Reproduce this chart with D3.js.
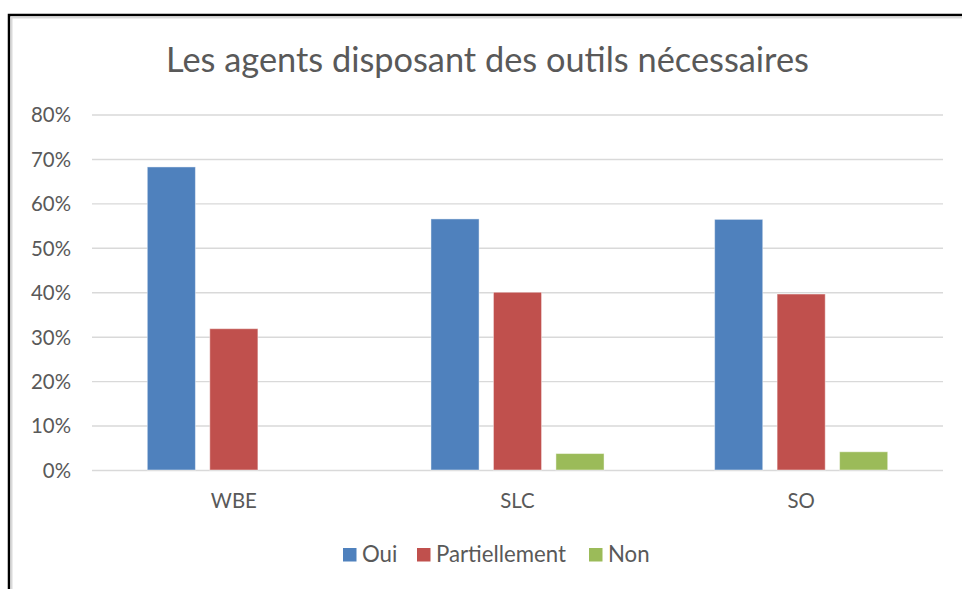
<!DOCTYPE html>
<html>
<head>
<meta charset="utf-8">
<script src="https://cdn.jsdelivr.net/npm/d3@7"></script>
<style>
  body { margin: 0; background: #fff; }
  text { font-family: Lato, "Open Sans", sans-serif; fill: #595959; }
</style>
</head>
<body>
<div id="chart"></div>
<script>
// Data
let categories = ["WBE", "SLC", "SO"];
let series = ["Oui", "Partiellement", "Non"];
let oui = [0.682, 0.565, 0.564];
let partiellement = [0.318, 0.400, 0.396];
let non = [0, 0.037, 0.041];
let yTicks = [0, 0.1, 0.2, 0.3, 0.4, 0.5, 0.6, 0.7, 0.8];
let title = "Les agents disposant des outils nécessaires";
let colors = ["#4f81bd", "#c0504d", "#9bbb59"];

let values = [oui, partiellement, non];
let W = 962, H = 589;
let plot = {left: 92, right: 943, top: 114.5, bottom: 470};

let svg = d3.select("#chart").append("svg")
    .attr("width", W)
    .attr("height", H);

svg.append("rect").attr("width", W).attr("height", H).attr("fill", "#fff");

// frame (black outer, light gray inner) - only left and top visible
svg.append("path")
    .attr("d", `M9,${H} V15 H${W}`)
    .attr("fill", "none").attr("stroke", "#000").attr("stroke-width", 2.5);
svg.append("path")
    .attr("d", `M11.5,${H} V17.5 H${W}`)
    .attr("fill", "none").attr("stroke", "#d9d9d9").attr("stroke-width", 2);

// fit font size so a text gets a target width
function fitSize(sel, target) {
  sel.attr("font-size", 100);
  let w = sel.node().getComputedTextLength();
  sel.attr("font-size", 100 * target / w);
  return 100 * target / w;
}

let x0 = d3.scaleBand()
    .domain(categories)
    .range([plot.left, plot.right]);

let x1 = d3.scaleBand()
    .domain(series)
    .range([0, x0.bandwidth()])
    .paddingInner(0.23)
    .paddingOuter(0.885);

let y = d3.scaleLinear()
    .domain([0, 0.8])
    .range([plot.bottom, plot.top]);

// grid
let yAxis = d3.axisLeft(y)
    .tickValues(yTicks)
    .tickSize(-(plot.right - plot.left))
    .tickPadding(21)
    .tickFormat(d3.format(".0%"));

let gy = svg.append("g")
    .attr("transform", `translate(${plot.left},0)`)
    .call(yAxis);
gy.select(".domain").remove();
gy.selectAll(".tick line").attr("stroke", "#d9d9d9").attr("stroke-width", 1.4);
gy.selectAll(".tick text").attr("fill", "#595959").attr("dy", "0.36em");
let tickSize = fitSize(gy.select(".tick:last-of-type text"), 40);
gy.selectAll(".tick text").attr("font-size", tickSize);

// bars
let groups = svg.selectAll(".grp")
    .data(categories)
  .enter().append("g")
    .attr("class", "grp")
    .attr("transform", d => `translate(${x0(d)},0)`);

groups.selectAll("rect")
    .data((d, i) => series.map((s, j) => ({s: s, v: values[j][i], c: colors[j]})))
  .enter().append("rect")
    .filter(d => d.v > 0)
    .attr("x", d => x1(d.s))
    .attr("y", d => y(d.v))
    .attr("width", x1.bandwidth())
    .attr("height", d => y(0) - y(d.v))
    .attr("fill", d => d.c)
    .attr("stroke", "#fff")
    .attr("stroke-opacity", 0.45)
    .attr("stroke-width", 1);

// category labels
svg.selectAll(".cat")
    .data(categories)
  .enter().append("text")
    .attr("class", "cat")
    .attr("x", d => x0(d) + x0.bandwidth() / 2)
    .attr("y", 508)
    .attr("text-anchor", "middle")
    .attr("font-size", tickSize)
    .text(d => d);

// title
let t = svg.append("text")
    .attr("x", 487.5)
    .attr("y", 72)
    .attr("text-anchor", "middle")
    .text(title);
fitSize(t, 643);

// legend
let legendX = [343, 417, 589];
let legend = svg.selectAll(".leg")
    .data(series)
  .enter().append("g")
    .attr("class", "leg")
    .attr("transform", (d, i) => `translate(${legendX[i]},548)`);
legend.append("rect")
    .attr("width", 13.5).attr("height", 13.5)
    .attr("fill", (d, i) => colors[i]);
let legText = legend.append("text")
    .attr("x", 19)
    .attr("y", 13.5)
    .text(d => d);
let legSize = fitSize(legText.filter((d, i) => i === 1), 130);
legText.attr("font-size", legSize);
</script>
</body>
</html>
